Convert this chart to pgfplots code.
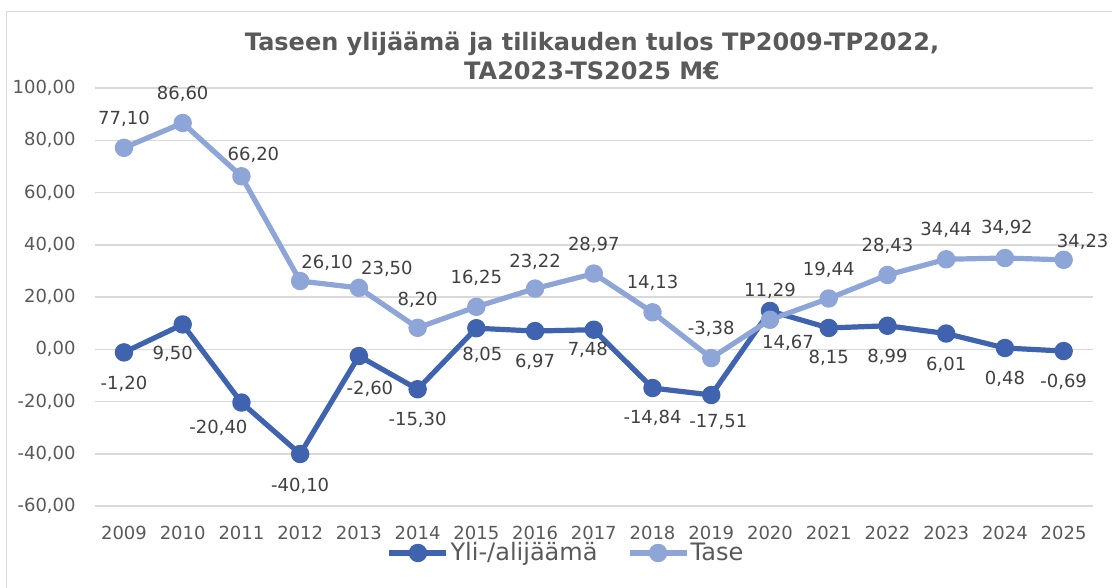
\documentclass[border=0pt]{standalone}
\usepackage{fontspec}
\setmainfont{DejaVu Sans}
\usepackage{pgfplots}
\pgfplotsset{compat=1.18}
\usepackage{pgfplotstable}
\definecolor{darkb}{HTML}{3F63AE}
\definecolor{lightb}{HTML}{8EA5D8}
\definecolor{txt}{HTML}{595959}
\definecolor{labc}{HTML}{404040}
\definecolor{gridc}{HTML}{D9D9D9}

\pgfplotstableread{
x y lab sx sy
0 -1.20 -1,20 0 -15.5
1 9.50 9,50 -5 -14.5
2 -20.40 -20,40 -11.5 -12.5
3 -40.10 -40,10 0 -16
4 -2.60 -2,60 5.5 -16.5
5 -15.30 -15,30 0 -15.5
6 8.05 8,05 3 -13.5
7 6.97 6,97 0 -15.5
8 7.48 7,48 -3 -10
9 -14.84 -14,84 0 -15
10 -17.51 -17,51 3.5 -13.5
11 14.67 14,67 9 -16
12 8.15 8,15 0 -15
13 8.99 8,99 0 -15.5
14 6.01 6,01 0 -15.5
15 0.48 0,48 0 -15.5
16 -0.69 -0,69 0 -15.5
}\yli

\pgfplotstableread{
x y lab sx sy
0 77.10 77,10 0 14.5
1 86.60 86,60 0 14.5
2 66.20 66,20 6 10.5
3 26.10 26,10 13.5 9
4 23.50 23,50 14 9.5
5 8.20 8,20 0 14
6 16.25 16,25 0 14.5
7 23.22 23,22 0 13.5
8 28.97 28,97 0 14.5
9 14.13 14,13 0 14.5
10 -3.38 -3,38 0 14.5
11 11.29 11,29 0 14.5
12 19.44 19,44 0 14.5
13 28.43 28,43 0 14.5
14 34.44 34,44 0 14.5
15 34.92 34,92 1 15
16 34.23 34,23 9.5 9
}\tase

\begin{document}
\begin{tikzpicture}
\useasboundingbox (0,0) rectangle (556pt,-294pt);
\begin{scope}
\clip (0,0) rectangle (556pt,-294pt);
\draw[gridc, line width=0.6pt] (3.2pt,-5.65pt) rectangle (700pt,-500pt);
\end{scope}
\node[anchor=base, font=\bfseries\fontsize{12}{14}\selectfont, text=txt, inner sep=0pt] at (296pt,-25.5pt) {Taseen ylijäämä ja tilikauden tulos TP2009-TP2022,};
\node[anchor=base, font=\bfseries\fontsize{12}{14}\selectfont, text=txt, inner sep=0pt] at (296pt,-40pt) {TA2023-TS2025 M€};
\begin{axis}[
  at={(47.3pt,-253pt)}, anchor=south west,
  scale only axis, width=499.2pt, height=209pt,
  xmin=-0.5, xmax=16.5, ymin=-60, ymax=100,
  ytick={-60,-40,-20,0,20,40,60,80,100},
  xtick={0,...,16},
  xticklabels={2009,2010,2011,2012,2013,2014,2015,2016,2017,2018,2019,2020,2021,2022,2023,2024,2025},
  axis line style={draw=none},
  major tick length=0pt,
  ymajorgrids, grid style={gridc, line width=0.75pt},
  tick label style={font=\fontsize{9}{11}\selectfont, text=txt, inner sep=0pt},
  yticklabel style={xshift=-9.3pt, /pgf/number format/.cd, fixed, fixed zerofill, precision=2, use comma, assume math mode=true},
  xticklabel style={yshift=-9.7pt},
  clip=false,
  legend columns=2,
  legend style={draw=none, fill=none, font=\fontsize{12}{14}\selectfont, text=txt,
    at={(0.472,-0.1124)}, anchor=center,
    /tikz/every even column/.append style={column sep=14pt},
    nodes={inner sep=0.75pt}},
  legend cell align=left,
  legend image code/.code={\draw[mark repeat=2,mark phase=2,#1] plot coordinates {(0pt,0pt) (14.25pt,0pt) (28.5pt,0pt)};},
]
\addplot[darkb, line width=2.6pt, line join=round, mark=*, mark size=3.3pt,
  mark options={draw=none, fill=darkb},
  point meta=explicit symbolic, nodes near coords,
  visualization depends on={\thisrow{sx}\as\labsx},
  visualization depends on={\thisrow{sy}\as\labsy},
  nodes near coords style={anchor=center, xshift=\labsx*1pt, yshift=\labsy*1pt, font=\fontsize{9}{11}\selectfont, text=labc, inner sep=0pt}
] table[x=x, y=y, meta=lab] {\yli};
\addlegendentry{Yli-/alijäämä}
\addplot[lightb, line width=2.6pt, line join=round, mark=*, mark size=3.3pt,
  mark options={draw=none, fill=lightb},
  point meta=explicit symbolic, nodes near coords,
  visualization depends on={\thisrow{sx}\as\labsx},
  visualization depends on={\thisrow{sy}\as\labsy},
  nodes near coords style={anchor=center, xshift=\labsx*1pt, yshift=\labsy*1pt, font=\fontsize{9}{11}\selectfont, text=labc, inner sep=0pt}
] table[x=x, y=y, meta=lab] {\tase};
\addlegendentry{Tase}
\end{axis}
\end{tikzpicture}
\end{document}
